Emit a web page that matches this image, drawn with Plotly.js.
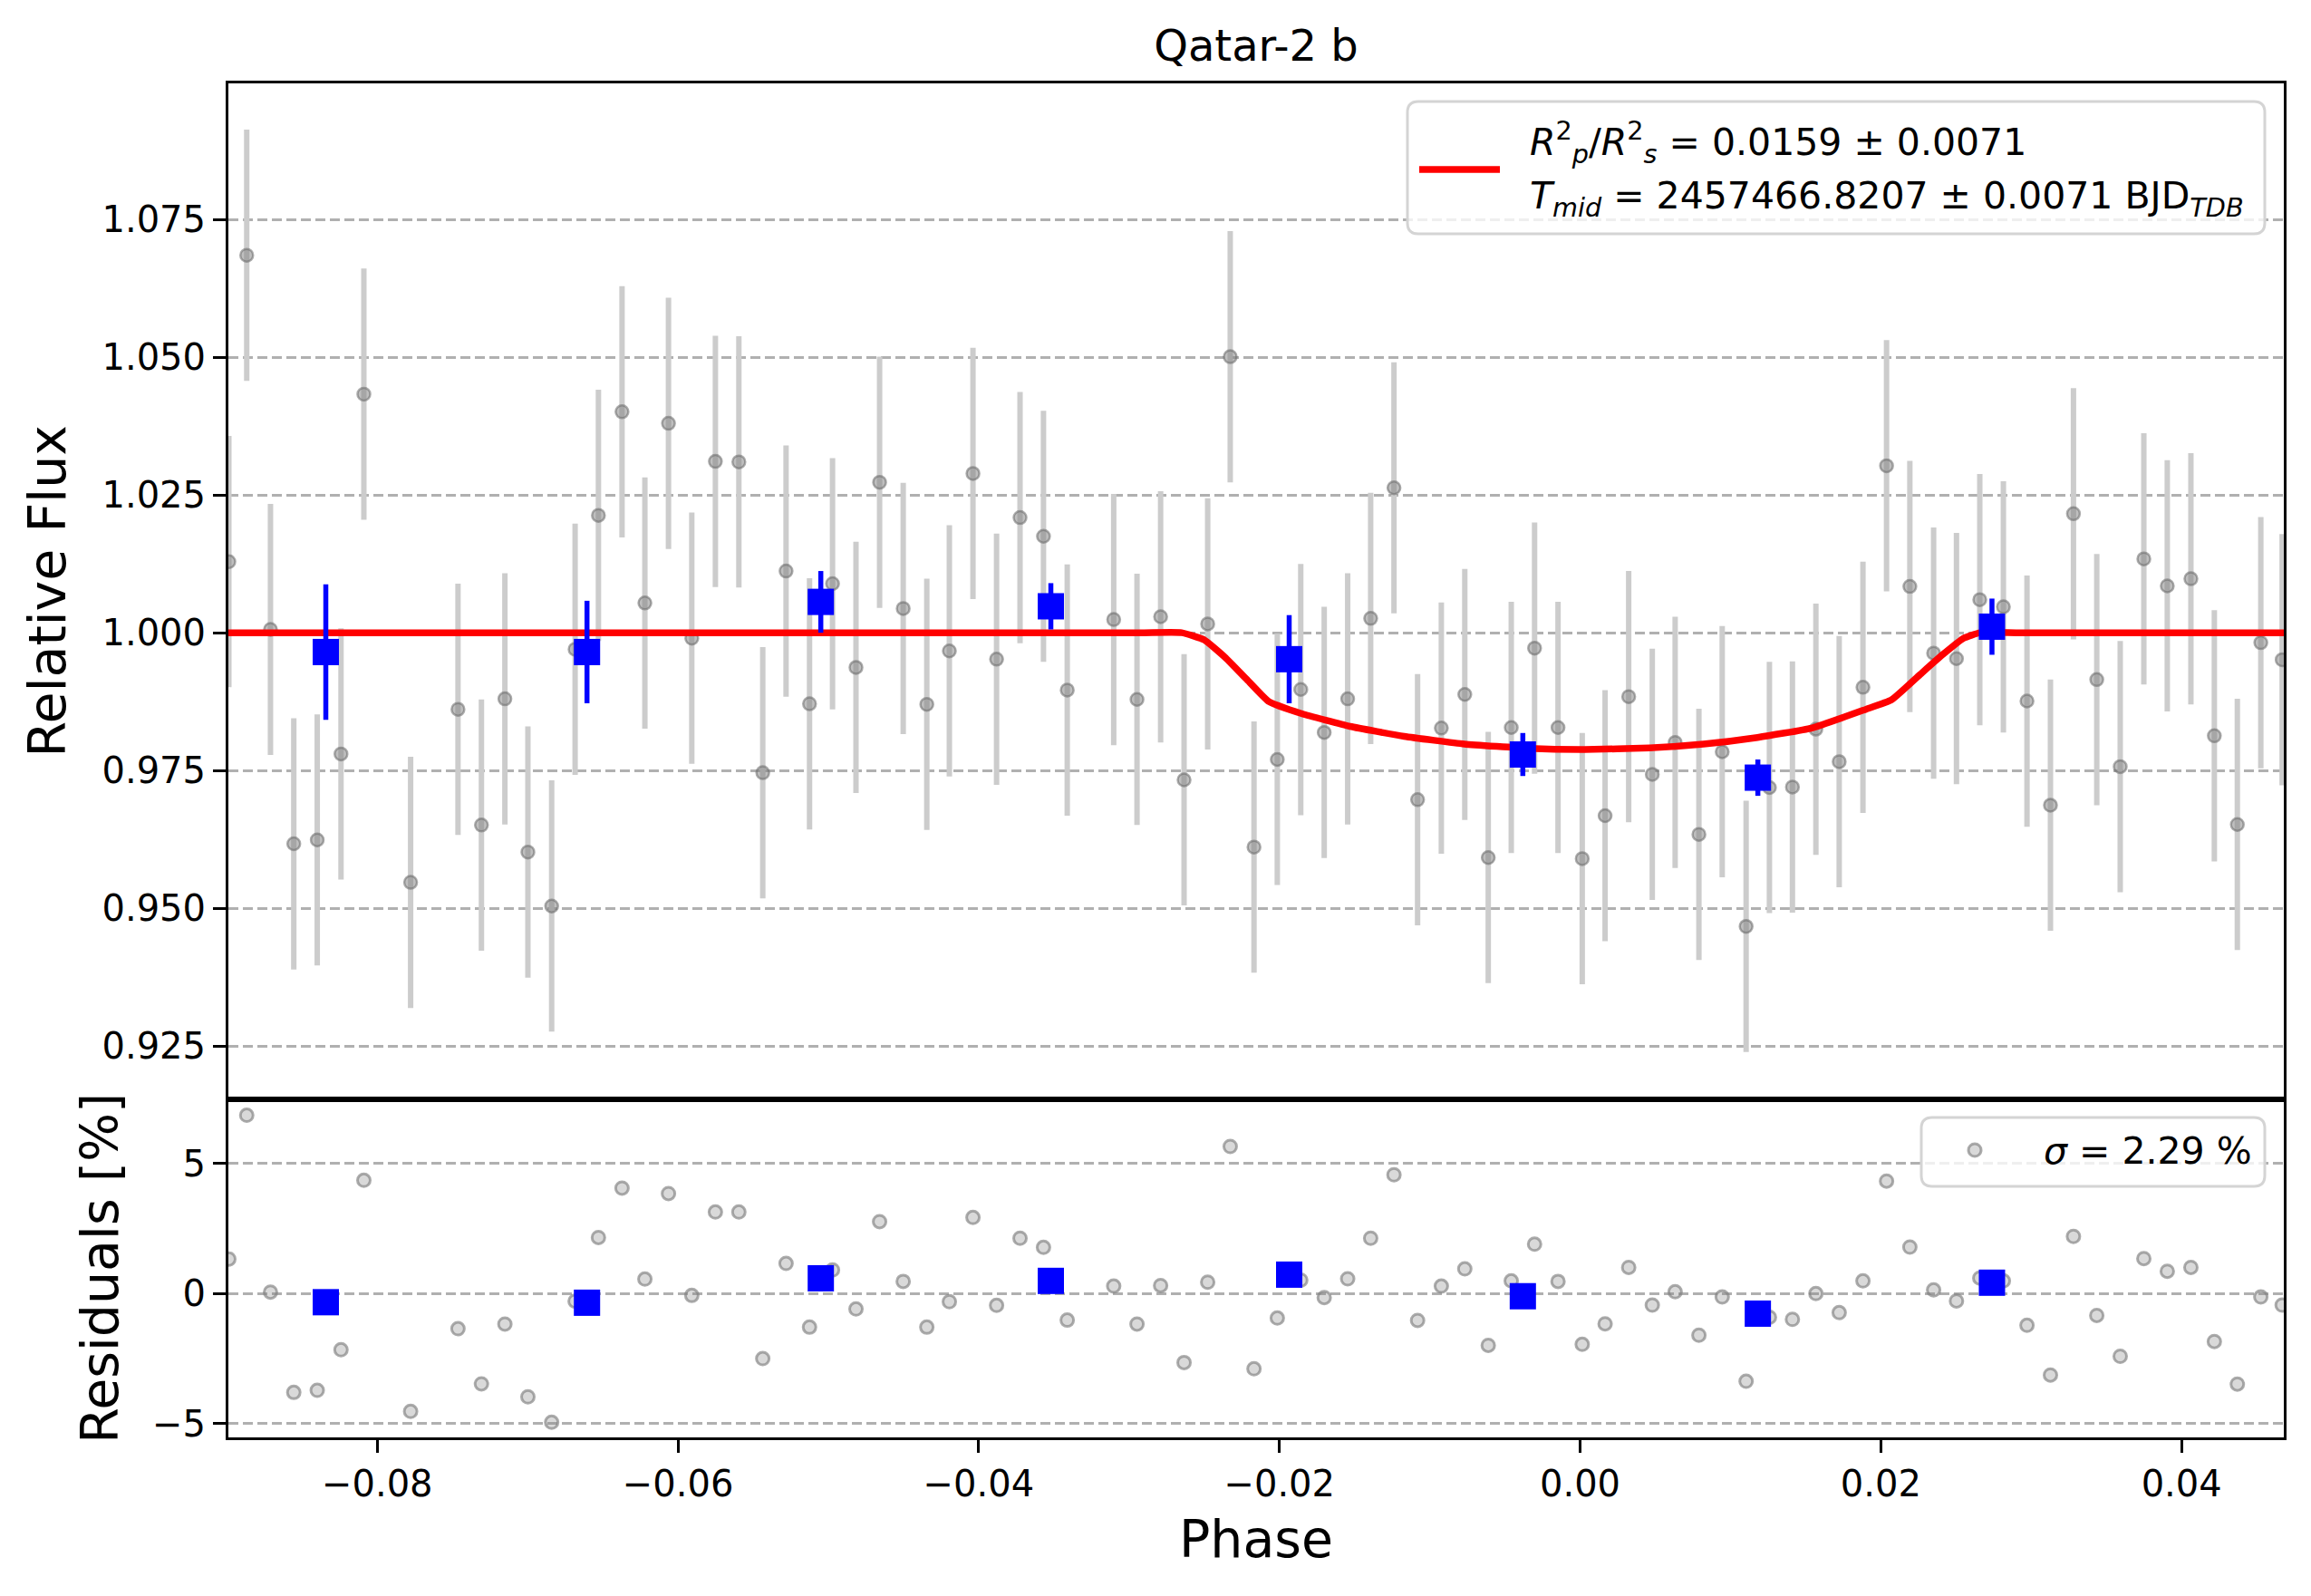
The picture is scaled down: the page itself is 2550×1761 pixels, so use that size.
<!DOCTYPE html>
<html>
<head>
<meta charset="utf-8">
<script src="https://cdn.plot.ly/plotly-3.0.1.min.js"></script>
<style>
  html, body { margin: 0; padding: 0; background: #ffffff; }
  #myDiv { width: 2550px; height: 1761px; }
</style>
</head>
<body>
<div id="myDiv"></div>
<script>
// unbinned points
var phase = [-0.08987, -0.08868, -0.08710, -0.08555, -0.08399, -0.08241, -0.08089, -0.07778, -0.07463, -0.07307,
  -0.07151, -0.06998, -0.06840, -0.06684, -0.06529, -0.06372, -0.06220, -0.06063, -0.05908, -0.05751,
  -0.05595, -0.05436, -0.05281, -0.05125, -0.04972, -0.04816, -0.04659, -0.04502, -0.04345, -0.04195,
  -0.04038, -0.03881, -0.03725, -0.03569, -0.03411, -0.03102, -0.02947, -0.02790, -0.02634, -0.02477,
  -0.02327, -0.02169, -0.02014, -0.01858, -0.01702, -0.01546, -0.01393, -0.01238, -0.01081, -0.00923,
  -0.00767, -0.00611, -0.00458, -0.00303, -0.00147, 0.00014, 0.00166, 0.00323, 0.00480, 0.00632,
  0.00790, 0.00945, 0.01104, 0.01259, 0.01412, 0.01568, 0.01723, 0.01881, 0.02038, 0.02193,
  0.02351, 0.02503, 0.02658, 0.02815, 0.02972, 0.03128, 0.03281, 0.03436, 0.03592, 0.03749,
  0.03905, 0.04062, 0.04218, 0.04371, 0.04527, 0.04669]

var flux = [1.0129, 1.0685, 1.0006, 0.9617, 0.9624, 0.9780, 1.0433, 0.9547, 0.9861, 0.9651,
  0.9880, 0.9602, 0.9504, 0.9970, 1.0213, 1.0401, 1.0054, 1.0380, 0.9990, 1.0311,
  1.0310, 0.9746, 1.0112, 0.9871, 1.0089, 0.9937, 1.0273, 1.0044, 0.9870, 0.9967,
  1.0289, 0.9952, 1.0209, 1.0175, 0.9896, 1.0024, 0.9879, 1.0029, 0.9733, 1.0016,
  1.0501, 0.9611, 0.9770, 0.9897, 0.9819, 0.9880, 1.0026, 1.0263, 0.9697, 0.9827,
  0.9888, 0.9592, 0.9828, 0.9972, 0.9828, 0.9590, 0.9668, 0.9884, 0.9743, 0.9801,
  0.9634, 0.9784, 0.9467, 0.9719, 0.9720, 0.9825, 0.9766, 0.9901, 1.0303, 1.0084,
  0.9963, 0.9953, 1.0060, 1.0047, 0.9876, 0.9687, 1.0216, 0.9915, 0.9757, 1.0134,
  1.0085, 1.0098, 0.9813, 0.9652, 0.9982, 0.9951]

var fluxErr = 0.0228

var resid = [1.33, 6.86, 0.06, -3.80, -3.72, -2.16, 4.36, -4.53, -1.35, -3.47,
  -1.17, -3.97, -4.95, -0.29, 2.16, 4.06, 0.56, 3.85, -0.07, 3.14,
  3.14, -2.50, 1.16, -1.29, 0.91, -0.59, 2.77, 0.47, -1.29, -0.31,
  2.93, -0.45, 2.13, 1.78, -1.02, 0.29, -1.17, 0.31, -2.65, 0.44,
  5.66, -2.89, -0.94, 0.52, -0.15, 0.57, 2.13, 4.57, -1.03, 0.29,
  0.95, -1.99, 0.49, 1.90, 0.47, -1.95, -1.16, 1.01, -0.44, 0.07,
  -1.60, -0.13, -3.37, -0.91, -0.99, 0.00, -0.73, 0.49, 4.33, 1.79,
  0.14, -0.28, 0.60, 0.49, -1.22, -3.13, 2.20, -0.84, -2.41, 1.35,
  0.86, 1.01, -1.84, -3.48, -0.13, -0.44]

// binned points
var binPhase = [-0.08342, -0.06605, -0.05050, -0.03520, -0.01935, -0.00381, 0.01182, 0.02739]
var binFlux = [0.9965, 0.9965, 1.0056, 1.0048, 0.9952, 0.9779, 0.9737, 1.0011]
var binErr = [0.0123, 0.0093, 0.0056, 0.0042, 0.0080, 0.0039, 0.0033, 0.0051]
var binResid = [-0.33, -0.35, 0.59, 0.49, 0.73, -0.10, -0.77, 0.42]

// transit model curve
var modelPhase = [-0.0899, -0.0700, -0.0500, -0.0350, -0.0290, -0.0265, -0.0250, -0.0236, -0.0222, -0.0207,
  -0.0185, -0.0153, -0.0117, -0.0077, -0.0034, 0.0003, 0.0046, 0.0082, 0.0118, 0.0154, 0.0190,
  0.0207, 0.0226, 0.0241, 0.0255, 0.0266, 0.0290, 0.0350, 0.0410, 0.0468]
var modelFlux = [1, 1, 1, 1, 1, 1, 0.9987, 0.9955, 0.9916, 0.9875,
  0.9853, 0.9830, 0.9812, 0.9798, 0.9790, 0.9788, 0.9791, 0.9798, 0.9810, 0.9827, 0.9861,
  0.9878, 0.9924, 0.9960, 0.9990, 1, 1, 1, 1, 1]

var xTicks = [-0.08, -0.06, -0.04, -0.02, 0.00, 0.02, 0.04]
var xTickText = ['\u22120.08', '\u22120.06', '\u22120.04', '\u22120.02', '0.00', '0.02', '0.04']
var fluxTicks = [0.925, 0.950, 0.975, 1.000, 1.025, 1.050, 1.075]
var residTicks = [-5, 0, 5]
var residTickText = ['\u22125', '0', '5']

var legendLine1 = '<i>R</i><sup>2</sup><sub><i>p</i></sub>/<i>R</i><sup>2</sup><sub><i>s</i></sub> = 0.0159 \u00b1 0.0071'
var legendLine2 = '<i>T</i><sub><i>mid</i></sub> = 2457466.8207 \u00b1 0.0071 BJD<sub><i>TDB</i></sub>'
var sigmaText = '<i>\u03c3</i> = 2.29 %'

// plot area in pixels, used to place the hand-drawn legend boxes
var W = 2550, H = 1761
var L = 252, R = 2520, T = 92, B = 1586
function px(X) { return (X - L) / (R - L) }
function py(Y) { return 1 - (Y - T) / (B - T) }
function roundBox(x0, y0, x1, y1, r) {
  var rx = r / (R - L), ry = r / (B - T)
  var a = px(x0), b = px(x1), c = py(y0), d = py(y1)
  return 'M' + (a + rx) + ',' + c + ' L' + (b - rx) + ',' + c +
    ' Q' + b + ',' + c + ' ' + b + ',' + (c - ry) +
    ' L' + b + ',' + (d + ry) + ' Q' + b + ',' + d + ' ' + (b - rx) + ',' + d +
    ' L' + (a + rx) + ',' + d + ' Q' + a + ',' + d + ' ' + a + ',' + (d + ry) +
    ' L' + a + ',' + (c - ry) + ' Q' + a + ',' + c + ' ' + (a + rx) + ',' + c + ' Z'
}

var grayDot = {symbol: 'circle', size: 14, color: 'rgba(128,128,128,0.5)',
  line: {color: 'rgba(105,105,105,0.55)', width: 2.5}}
var residDot = {symbol: 'circle', size: 14, color: 'rgba(128,128,128,0.3)',
  line: {color: 'rgba(128,128,128,0.65)', width: 3}}

var data = [{
    type: 'scatter', mode: 'markers', x: phase, y: flux, xaxis: 'x', yaxis: 'y',
    marker: grayDot, showlegend: false,
    error_y: {type: 'constant', value: fluxErr, color: '#cccccc', thickness: 6, width: 0}
  }, {
    type: 'scatter', mode: 'lines', x: modelPhase, y: modelFlux, xaxis: 'x', yaxis: 'y',
    line: {color: '#ff0000', width: 7.5, shape: 'spline', smoothing: 0.4}, showlegend: false
  }, {
    type: 'scatter', mode: 'markers', x: binPhase, y: binFlux, xaxis: 'x', yaxis: 'y',
    marker: {symbol: 'square', size: 29, color: '#0000ff'}, showlegend: false,
    error_y: {type: 'data', array: binErr, color: '#0000ff', thickness: 5.5, width: 0}
  }, {
    type: 'scatter', mode: 'markers', x: phase, y: resid, xaxis: 'x2', yaxis: 'y2',
    marker: residDot, showlegend: false
  }, {
    type: 'scatter', mode: 'markers', x: binPhase, y: binResid, xaxis: 'x2', yaxis: 'y2',
    marker: {symbol: 'square', size: 29, color: '#0000ff'}, showlegend: false
  }]

var axisLine = {showline: true, linecolor: '#000000', linewidth: 3, mirror: true, zeroline: false}

var layout = {
  width: W,
  height: H,
  paper_bgcolor: '#ffffff',
  plot_bgcolor: '#ffffff',
  showlegend: false,
  font: {family: 'DejaVu Sans', size: 40, color: '#000000'},
  margin: {t: T, b: H - B, l: L, r: W - R, pad: 0},
  title: {text: 'Qatar-2 b', font: {size: 48}, x: 0.5, xref: 'paper', xanchor: 'center',
    y: 1 - 50 / H, yref: 'container', yanchor: 'middle'},
  xaxis: Object.assign({}, axisLine, {
    domain: [0, 1], anchor: 'y', matches: 'x2', showticklabels: false, ticks: '', showgrid: false
  }),
  yaxis: Object.assign({}, axisLine, {
    domain: [0.25, 1], anchor: 'x', range: [0.9154, 1.0997],
    tickvals: fluxTicks, tickformat: '.3f', ticks: 'outside', ticklen: 14, tickwidth: 3, tickcolor: '#000000',
    tickfont: {size: 40},
    showgrid: true, gridcolor: '#b0b0b0', gridwidth: 3, griddash: '11px,5px',
    title: {text: 'Relative Flux', font: {size: 57}, standoff: 22}
  }),
  xaxis2: Object.assign({}, axisLine, {
    domain: [0, 1], anchor: 'y2', range: [-0.0899, 0.0468],
    tickvals: xTicks, ticktext: xTickText, ticks: 'outside', ticklen: 14, tickwidth: 3, tickcolor: '#000000',
    tickfont: {size: 40}, showgrid: false,
    title: {text: 'Phase', font: {size: 57}, standoff: 20}
  }),
  yaxis2: Object.assign({}, axisLine, {
    domain: [0, 0.25], anchor: 'x2', range: [-5.53, 7.49],
    tickvals: residTicks, ticktext: residTickText, ticks: 'outside', ticklen: 14, tickwidth: 3, tickcolor: '#000000',
    tickfont: {size: 40},
    showgrid: true, gridcolor: '#b0b0b0', gridwidth: 3, griddash: '11px,5px',
    title: {text: 'Residuals [%]', font: {size: 57}, standoff: 20}
  }),
  shapes: [
    // legend of the upper panel
    {type: 'path', xref: 'paper', yref: 'paper', layer: 'above', path: roundBox(1553, 112, 2499, 258, 12),
      fillcolor: 'rgba(255,255,255,0.8)', line: {color: '#d4d4d4', width: 3}},
    {type: 'line', xref: 'paper', yref: 'paper', layer: 'above',
      x0: px(1566), x1: px(1655), y0: py(187), y1: py(187), line: {color: '#ff0000', width: 7.5}},
    // legend of the residual panel
    {type: 'path', xref: 'paper', yref: 'paper', layer: 'above', path: roundBox(2120, 1233, 2499, 1309, 12),
      fillcolor: 'rgba(255,255,255,0.8)', line: {color: '#d4d4d4', width: 3}},
    {type: 'circle', xref: 'paper', yref: 'paper', layer: 'above',
      x0: px(2172), x1: px(2186), y0: py(1262), y1: py(1276),
      fillcolor: 'rgba(128,128,128,0.3)', line: {color: 'rgba(128,128,128,0.65)', width: 3}}
  ],
  annotations: [
    {xref: 'paper', yref: 'paper', x: px(1686), y: py(157), xanchor: 'left', yanchor: 'middle',
      text: legendLine1, showarrow: false, font: {size: 41}},
    {xref: 'paper', yref: 'paper', x: px(1686), y: py(219), xanchor: 'left', yanchor: 'middle',
      text: legendLine2, showarrow: false, font: {size: 41}},
    {xref: 'paper', yref: 'paper', x: px(2253), y: py(1270), xanchor: 'left', yanchor: 'middle',
      text: sigmaText, showarrow: false, font: {size: 41}}
  ]
}

Plotly.newPlot('myDiv', data, layout, {staticPlot: true})
</script>
</body>
</html>
